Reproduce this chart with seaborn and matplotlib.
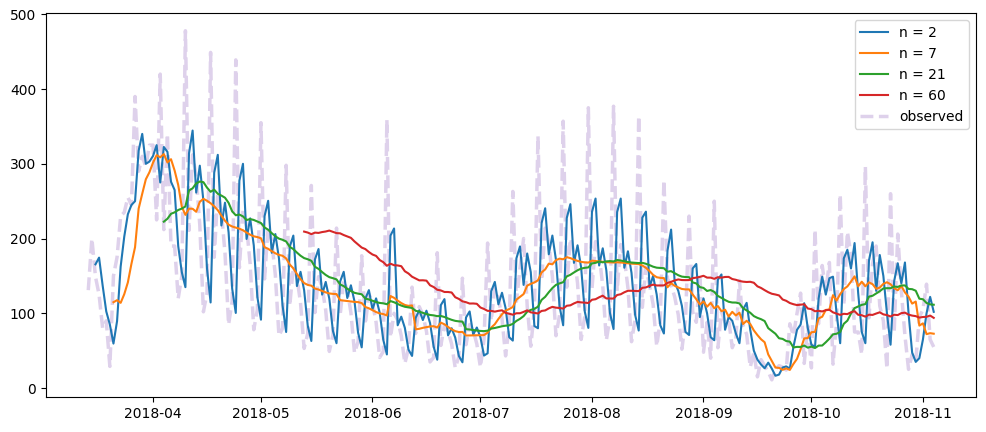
import numpy as np
import pandas as pd
import matplotlib
matplotlib.use("Agg")
import matplotlib.pyplot as plt
import matplotlib.dates as mdates
import seaborn as sns

start_date = "2018-03-14"
windows = [2, 7, 21, 60]
series_labels = ["n = 2", "n = 7", "n = 21", "n = 60"]
observed_label = "observed"

observed = [
    131, 200, 149, 125, 80, 90, 29, 150, 175, 230, 235, 255, 245,
    390, 290, 310, 296, 325, 325, 225,
    420, 212, 340, 190, 190, 120,
    150, 478, 211, 312, 283, 218, 102,
    127, 449, 175, 260, 236, 181, 85,
    116, 439, 161, 238, 216, 166, 78,
    105, 355, 146, 216, 196, 151, 70,
    80, 298, 110, 163, 148, 114, 53,
    73, 271, 101, 149, 135, 104, 49,
    71, 214, 97, 144, 131, 101, 47,
    62, 177, 85, 126, 114, 88, 41,
    49, 359, 68, 100, 91, 70, 33,
    53, 135, 73, 109, 98, 76, 35,
    41, 181, 57, 84, 76, 59, 27,
    42, 147, 58, 85, 77, 59, 28,
    65, 194, 90, 134, 121, 93, 43,
    84, 263, 116, 160, 200, 110, 56,
    104, 337, 144, 214, 194, 149, 70,
    98, 357, 135, 200, 182, 140, 65,
    96, 375, 132, 196, 178, 137, 64,
    94, 377, 130, 192, 174, 134, 62,
    92, 364, 108, 162, 138, 112, 56,
    90, 278, 146, 138, 122, 98, 52,
    90, 230, 102, 88, 152, 48, 88,
    40, 250, 54, 102, 88, 92, 54,
    66, 144, 84, 72, 28, 48, 15,
    38, 30, 22, 11, 25, 30, 28,
    24, 86, 70, 100, 127, 33, 83,
    27, 212, 86, 164, 130, 168, 32,
    88, 259, 111, 209, 179, 75, 75,
    45, 296, 94, 166, 190, 110, 90,
    26, 260, 74, 206, 130, 70, 25,
    45, 35, 95, 105, 139, 65, 55,
]

line_colors = ["#1f77b4", "#ff7f0e", "#2ca02c", "#d62728"]

dates = pd.date_range(start_date, periods=len(observed), freq="D")
obs = pd.Series(observed, index=dates, dtype=float)

fig = plt.figure(figsize=(9.86, 4.32), dpi=100)
ax = fig.add_axes([46 / 986, 1 - 397.3 / 432, 930 / 986, 384 / 432])

for n, lab, col in zip(windows, series_labels, line_colors):
    roll = obs.rolling(n).mean().shift(1)
    df = pd.DataFrame({"date": dates, "value": roll.values})
    sns.lineplot(data=df, x="date", y="value", ax=ax, color=col,
                 label=lab, linewidth=1.5, zorder=3)

df_obs = pd.DataFrame({"date": dates, "value": obs.values})
sns.lineplot(data=df_obs, x="date", y="value", ax=ax, color="#9467bd",
             alpha=0.3, linestyle="--", linewidth=2.5, label=observed_label,
             zorder=2)

ax.xaxis.set_major_locator(mdates.MonthLocator())
ax.xaxis.set_major_formatter(mdates.DateFormatter("%Y-%m"))
ax.set_xlabel("")
ax.set_ylabel("")
ax.set_yticks([0, 100, 200, 300, 400, 500])
ax.legend(loc="upper right")

fig.savefig("out.png", dpi=100)
